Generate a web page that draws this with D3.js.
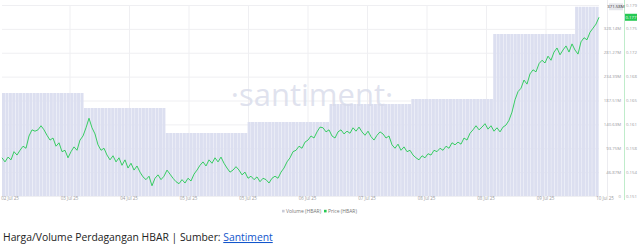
<!DOCTYPE html>
<html>
<head>
<meta charset="utf-8">
<script src="https://cdn.jsdelivr.net/npm/d3@7"></script>
<style>
  body { margin: 0; background: #fff; }
  svg { display: block; font-family: "Open Sans", "Noto Sans", sans-serif; }
</style>
</head>
<body>
<svg id="chart" width="639" height="244"></svg>
<script>
// daily volume (HBAR), one value per day starting 2 Jul 2025
const volumeDays = ["2025-07-02", "2025-07-03", "2025-07-04", "2025-07-05", "2025-07-06", "2025-07-07", "2025-07-08", "2025-07-09"];
const volumeValues = [202.2e6, 172.8e6, 123.7e6, 145.3e6, 180.6e6, 190.5e6, 318.1e6, 371.58e6];

// price samples, evenly spaced over the whole period
const priceValues = [
  0.1566, 0.1560, 0.1567, 0.1563, 0.1575, 0.1570, 0.1577, 0.1583, 0.1580, 0.1598,
  0.1607, 0.1605, 0.1607, 0.1613, 0.1607, 0.1599, 0.1592, 0.1595, 0.1583, 0.1588,
  0.1575, 0.1577, 0.1566, 0.1575, 0.1582, 0.1577, 0.1592, 0.1598, 0.1610, 0.1624,
  0.1610, 0.1601, 0.1585, 0.1577, 0.1580, 0.1570, 0.1563, 0.1569, 0.1560, 0.1566,
  0.1555, 0.1563, 0.1551, 0.1558, 0.1548, 0.1554, 0.1545, 0.1538, 0.1534, 0.1539,
  0.1525, 0.1536, 0.1541, 0.1534, 0.1539, 0.1548, 0.1542, 0.1536, 0.1531, 0.1528,
  0.1534, 0.1529, 0.1536, 0.1532, 0.1542, 0.1548, 0.1555, 0.1560, 0.1554, 0.1563,
  0.1558, 0.1566, 0.1560, 0.1567, 0.1558, 0.1551, 0.1545, 0.1548, 0.1553, 0.1548,
  0.1541, 0.1545, 0.1536, 0.1539, 0.1534, 0.1538, 0.1531, 0.1536, 0.1534, 0.1529,
  0.1536, 0.1539, 0.1536, 0.1545, 0.1551, 0.1560, 0.1566, 0.1575, 0.1577, 0.1583,
  0.1580, 0.1589, 0.1592, 0.1598, 0.1595, 0.1604, 0.1611, 0.1610, 0.1604, 0.1607,
  0.1598, 0.1595, 0.1604, 0.1607, 0.1601, 0.1605, 0.1602, 0.1610, 0.1605, 0.1611,
  0.1604, 0.1599, 0.1605, 0.1597, 0.1592, 0.1599, 0.1604, 0.1601, 0.1595, 0.1598,
  0.1585, 0.1580, 0.1586, 0.1577, 0.1582, 0.1575, 0.1577, 0.1570, 0.1566, 0.1563,
  0.1569, 0.1566, 0.1572, 0.1570, 0.1577, 0.1575, 0.1580, 0.1577, 0.1583, 0.1580,
  0.1588, 0.1585, 0.1589, 0.1586, 0.1595, 0.1592, 0.1602, 0.1607, 0.1613, 0.1607,
  0.1611, 0.1616, 0.1608, 0.1613, 0.1605, 0.1610, 0.1604, 0.1611, 0.1614, 0.1621,
  0.1633, 0.1651, 0.1663, 0.1668, 0.1680, 0.1674, 0.1689, 0.1695, 0.1692, 0.1704,
  0.1709, 0.1705, 0.1715, 0.1709, 0.1721, 0.1727, 0.1717, 0.1724, 0.1730, 0.1721,
  0.1733, 0.1724, 0.1718, 0.1736, 0.1742, 0.1739, 0.1750, 0.1756, 0.1762, 0.1772
];

const xTickLabels = ["02 Jul 25", "03 Jul 25", "04 Jul 25", "05 Jul 25", "05 Jul 25", "06 Jul 25",
  "07 Jul 25", "08 Jul 25", "08 Jul 25", "09 Jul 25", "10 Jul 25"];
const volumeTicks = [0, 46.877e6, 93.754e6, 140.63e6, 187.51e6, 234.39e6, 281.27e6, 328.14e6, 375.02e6];
const volumeTickLabels = ["0", "46.87M", "93.75M", "140.63M", "187.51M", "234.39M", "281.27M", "328.14M", ""];
const priceTicks = [0.151, 0.1545, 0.158, 0.1615, 0.165, 0.1685, 0.172, 0.1755, 0.179];
const priceTickLabels = ["0.151", "0.154", "0.158", "0.161", "0.165", "0.168", "0.172", "0.175", "0.179"];

const lastVolumeLabel = "371.58M";
const lastPriceLabel = "0.177";

const svg = d3.select("#chart");
const plot = { left: 2, right: 599, top: 5, bottom: 196 };

const start = new Date("2025-07-02T00:00:00Z");
const end = d3.utcHour.offset(start, 175);
const x = d3.scaleUtc().domain([start, end]).range([plot.left, plot.right]);
const yVol = d3.scaleLinear().domain([0, 375.02e6]).range([plot.bottom, plot.top]);
const yPrice = d3.scaleLinear().domain([0.151, 0.179]).range([plot.bottom, plot.top]);
const xLabel = d3.scalePoint().domain(d3.range(xTickLabels.length)).range([10, 605]);
const priceTime = d3.scaleLinear().domain([0, priceValues.length - 1]).range([+start, +end]);

// grid
svg.append("g").selectAll("line")
  .data(volumeTicks)
  .join("line")
  .attr("x1", plot.left).attr("x2", plot.right)
  .attr("y1", d => yVol(d) + 0.5).attr("y2", d => yVol(d) + 0.5)
  .attr("stroke", "#efeff2");
svg.append("g").selectAll("line")
  .data(d3.range(1, xTickLabels.length - 1))
  .join("line")
  .attr("x1", d => xLabel(d) + 0.5).attr("x2", d => xLabel(d) + 0.5)
  .attr("y1", plot.top).attr("y2", plot.bottom)
  .attr("stroke", "#efeff2");

// volume: hourly slices of each daily bar
const hours = d3.utcHours(start, end);
const volByDay = new Map(volumeDays.map((d, i) => [d, volumeValues[i]]));
const dayKey = d3.utcFormat("%Y-%m-%d");
svg.append("g").selectAll("rect")
  .data(hours)
  .join("rect")
  .attr("x", d => x(d))
  .attr("width", d => Math.max(0, x(d3.utcHour.offset(d, 1)) - x(d) - 0.35))
  .attr("y", d => yVol(volByDay.get(dayKey(d))))
  .attr("height", d => plot.bottom - yVol(volByDay.get(dayKey(d))))
  .attr("fill", "#dcdff0");

// watermark
svg.append("text")
  .attr("x", 312).attr("y", 106)
  .attr("text-anchor", "middle")
  .attr("font-size", 31)
  .attr("fill", "#d8dbea")
  .attr("fill-opacity", 0.8)
  .text("·santiment·");

// price line
const line = d3.line()
  .x((d, i) => x(new Date(priceTime(i))))
  .y(d => yPrice(d));
svg.append("path")
  .datum(priceValues)
  .attr("d", line)
  .attr("fill", "none")
  .attr("stroke", "#26c953")
  .attr("stroke-width", 0.9)
  .attr("stroke-linejoin", "round");

// x axis labels
svg.append("g").selectAll("text")
  .data(xTickLabels)
  .join("text")
  .attr("x", (d, i) => xLabel(i))
  .attr("y", 200)
  .attr("text-anchor", "middle")
  .attr("font-size", 4.5)
  .attr("fill", "#9a9aa0")
  .text(d => d);

// right axes
svg.append("line")
  .attr("x1", 607.5).attr("x2", 607.5).attr("y1", 0).attr("y2", 200)
  .attr("stroke", "#ececf0");
svg.append("line")
  .attr("x1", 624.5).attr("x2", 624.5).attr("y1", 0).attr("y2", 200)
  .attr("stroke", "#bfeccb");

svg.append("g").selectAll("text")
  .data(volumeTicks)
  .join("text")
  .attr("x", 621)
  .attr("y", d => yVol(d) + 1.6)
  .attr("text-anchor", "end")
  .attr("font-size", 4.3)
  .attr("fill", "#9a9aa0")
  .text((d, i) => volumeTickLabels[i]);

svg.append("g").selectAll("text")
  .data(priceTicks)
  .join("text")
  .attr("x", 626)
  .attr("y", d => yPrice(d) + 1.6)
  .attr("font-size", 4.3)
  .attr("fill", "#9a9aa0")
  .text((d, i) => priceTickLabels[i]);

// current value markers
const vy = yVol(volumeValues[volumeValues.length - 1]);
svg.append("rect").attr("x", 609).attr("y", vy - 3.5).attr("width", 14).attr("height", 7).attr("fill", "#e6e7ec");
svg.append("text").attr("x", 616).attr("y", vy + 1.5).attr("text-anchor", "middle")
  .attr("font-size", 4.3).attr("fill", "#333").text(lastVolumeLabel);

const py = yPrice(priceValues[priceValues.length - 1]);
svg.append("rect").attr("x", 625).attr("y", py - 3.5).attr("width", 12).attr("height", 7).attr("fill", "#26c953");
svg.append("text").attr("x", 631).attr("y", py + 1.5).attr("text-anchor", "middle")
  .attr("font-size", 4.3).attr("fill", "#fff").text(lastPriceLabel);

// legend
const legend = [
  { label: "Volume (HBAR)", color: "#c9cbd8", x: 282 },
  { label: "Price (HBAR)", color: "#26c953", x: 324 }
];
const lg = svg.append("g").selectAll("g").data(legend).join("g")
  .attr("transform", d => `translate(${d.x},212)`);
lg.append("rect").attr("x", 0).attr("y", -2.2).attr("width", 2.6).attr("height", 2.6).attr("fill", d => d.color);
lg.append("text").attr("x", 4).attr("y", 0.8).attr("font-size", 5).attr("fill", "#777").text(d => d.label);

// caption
const cap = svg.append("text")
  .attr("x", 3).attr("y", 241)
  .attr("font-size", 10.35)
  .attr("fill", "#222");
cap.append("tspan").text("Harga/Volume Perdagangan HBAR | Sumber: ");
cap.append("tspan").attr("fill", "#1155cc").attr("text-decoration", "underline").text("Santiment");
</script>
</body>
</html>
